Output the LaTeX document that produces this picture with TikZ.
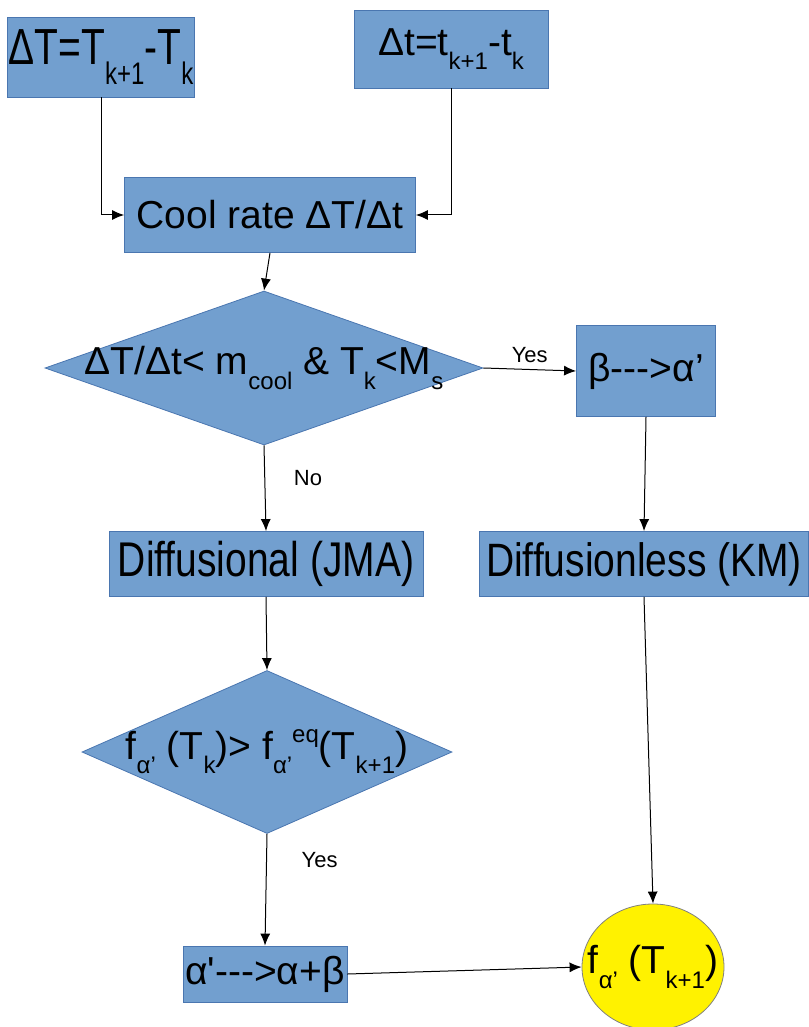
\documentclass[tikz,border=0pt]{standalone}
\usepackage{fontspec}
\setmainfont{Liberation Sans}[Ligatures=TeXOff]
\usepackage{xcolor}
\usepackage{graphicx}
\usetikzlibrary{shapes,arrows.meta,positioning}
\definecolor{boxblue}{HTML}{729FCF}
\definecolor{boxline}{HTML}{4A76B0}
\newcommand{\subtx}[1]{\raisebox{-0.38em}{\fontsize{12}{12}\selectfont #1}}
\newcommand{\suptx}[1]{\raisebox{0.42em}{\fontsize{12}{12}\selectfont #1}}
\newcommand{\tallby}[2]{\scalebox{1}[#1]{#2}}

\begin{document}
\begin{tikzpicture}[
    x=0.5pt, y=-0.5pt,
    % Process steps
    process/.style={rectangle, draw=boxline, fill=boxblue, inner sep=0pt, font=\fontsize{19.5}{21}\selectfont},
    % Decisions
    decision/.style={diamond, draw=boxline, fill=boxblue, inner sep=0pt, font=\fontsize{19.5}{21}\selectfont},
    % Result
    result/.style={ellipse, draw=gray, fill=yellow, inner sep=0pt, font=\fontsize{19.5}{21}\selectfont},
    flow/.style={-{Latex[length=6pt, width=5pt]}, line width=0.5pt, black},
    tag/.style={font=\fontsize{11}{13}\selectfont}
]
\useasboundingbox (0,0) rectangle (808,1027);

% Inputs - Top level
\node[process, minimum width=93.5pt, minimum height=40pt] (dT) at (101,57) {\tallby{1.3}{ΔT=T\subtx{k+1}-T\subtx{k}}};
\node[process, minimum width=97pt, minimum height=39pt] (dt) at (451,49) {Δt=t\subtx{k+1}-t\subtx{k}};
\node[process, minimum width=145.5pt, minimum height=37.5pt] (rate) at (270,215) {Cool rate ΔT/Δt};

% First decision
\node[decision, minimum width=219pt, minimum height=77pt] (cond1) at (264,368) {\makebox[0pt]{ΔT/Δt< m\subtx{cool} \& T\subtx{k}<M\subtx{s}}};
\node[process, minimum width=69.5pt, minimum height=45.5pt] (beta) at (646,371) {β--->α’};

% Transformation branches
\node[process, minimum width=157pt, minimum height=32.5pt] (jma) at (266,564) {\tallby{1.25}{Diffusional (JMA)}};
\node[process, minimum width=164.5pt, minimum height=32.5pt] (km) at (644,564) {\tallby{1.2}{Diffusionless (KM)}};

% Second decision
\node[decision, minimum width=185pt, minimum height=81.5pt] (cond2) at (267,752) {\makebox[0pt]{f\subtx{α’} (T\subtx{k})> f\subtx{α’}\suptx{eq}(T\subtx{k+1})}};
\node[process, minimum width=82pt, minimum height=28pt] (mix) at (265,974) {α'--->α+β};

% Result
\node[result, minimum width=71pt, minimum height=63pt] (final) at (653,967) {\makebox[0pt]{f\subtx{α’} (T\subtx{k+1})}};

% Connections
\draw[flow] (dT.south) |- (rate.west);
\draw[flow] (dt.south) |- (rate.east);
\draw[flow] (rate.south) -- (cond1.north);
\draw[flow] (cond1.east) -- node[tag, midway, above] {Yes} (beta.west);
\draw[flow] (cond1.south) -- node[tag, pos=0.38, right=11pt] {No} (jma.north);
\draw[flow] (beta.south) -- (km.north);
\draw[flow] (jma.south) -- (cond2.north);
\draw[flow] (cond2.south) -- node[tag, pos=0.23, right=14pt] {Yes} (mix.north);
\draw[flow] (km.south) -- (final.north);
\draw[flow] (mix.east) -- (final.west);

\end{tikzpicture}
\end{document}
